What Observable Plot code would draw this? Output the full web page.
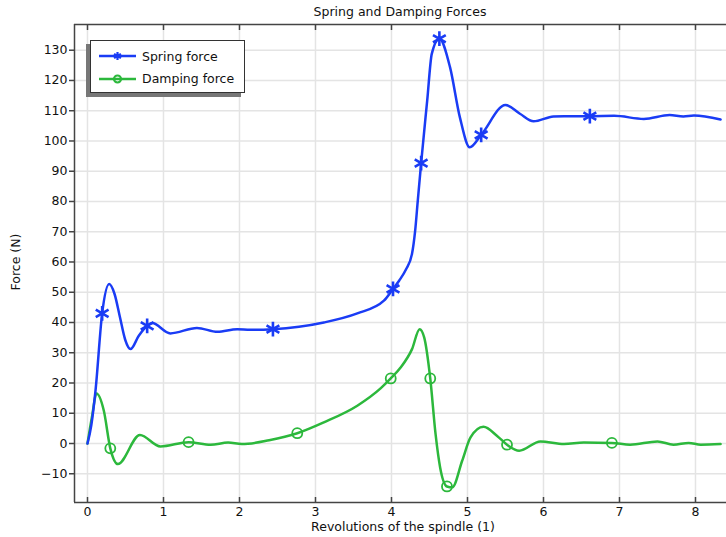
<!DOCTYPE html>
<html><head><meta charset="utf-8">
<script src="https://cdn.jsdelivr.net/npm/d3@7"></script>
<script src="https://cdn.jsdelivr.net/npm/@observablehq/plot@0.6"></script>
<style>
body{margin:0;background:#fff;font-family:"DejaVu Sans",sans-serif;color:#111;}
#wrap{position:relative;width:726px;height:537px;overflow:hidden;}
#title{position:absolute;top:4px;left:74px;width:652px;text-align:center;font-size:12.5px;line-height:15px;}
#xlabel{position:absolute;top:519px;left:74px;width:658px;text-align:center;font-size:12.5px;line-height:15px;}
#ylabel{position:absolute;left:15px;top:262px;transform:translate(-50%,-50%) rotate(-90deg);white-space:nowrap;font-size:12.5px;line-height:15px;}
#legend{position:absolute;left:90px;top:40px;width:153px;height:51px;background:#fff;border:1.5px solid #333;box-shadow:-4px 4px 0 #777;font-size:12.5px;}
.row{position:absolute;left:8px;height:20px;display:flex;align-items:center;}
.row svg{margin-right:6px;}
</style>
</head><body>
<div id="wrap">
  <div id="chart"></div>
  <div id="title">Spring and Damping Forces</div>
  <div id="xlabel">Revolutions of the spindle (1)</div>
  <div id="ylabel">Force (N)</div>
  <div id="legend"></div>
</div>
<script>
const title = "Spring and Damping Forces";
const seriesNames = ["Spring force", "Damping force"];
const xTicks = [0,1,2,3,4,5,6,7,8];
const yTicks = [-10,0,10,20,30,40,50,60,70,80,90,100,110,120,130];
const xDomain = [-0.171, 8.408];
const yDomain = [-19.5, 138.5];

const springX = [0,0.05,0.105,0.193,0.285,0.355,0.425,0.496,0.566,0.675,0.785,0.85,1.09,1.44,1.71,1.97,2.14,2.44,3.11,3.55,3.90,4.02,4.10,4.19,4.27,4.31,4.346,4.39,4.47,4.53,4.63,4.77,4.90,5.03,5.18,5.50,5.69,5.87,6.13,6.27,6.61,6.93,7.32,7.66,7.84,7.98,8.33];
const springY = [0,6,17.4,43,52.7,49.5,42,34.3,31.2,35.6,38.9,39.8,36.4,38.2,36.9,37.8,37.6,37.8,40.0,43.0,47.2,51.1,53.8,57.5,62.7,70,80.3,92.7,113.4,128.8,133.8,124.4,107.8,97.9,102,111.9,109,106.5,108.1,108.2,108.2,108.3,107.3,108.6,108.1,108.4,107.1];
const springMarkX = [0.193,0.785,2.44,4.02,4.39,4.63,5.18,6.61];
const springMarkY = [43,38.9,37.8,51.1,92.7,133.8,102,108.2];

const dampX = [0,0.06,0.118,0.215,0.30,0.40,0.69,0.96,1.33,1.62,1.85,2.03,2.39,2.76,3.11,3.55,3.86,3.99,4.12,4.27,4.37,4.43,4.51,4.58,4.64,4.73,4.80,4.93,5.04,5.21,5.39,5.52,5.68,5.96,6.27,6.53,6.90,7.14,7.50,7.71,7.91,8.07,8.33];
const dampY = [0,9,16.5,10.8,-1.6,-6.8,2.8,-1.0,0.45,-0.4,0.3,-0.2,1.1,3.4,7.0,12.5,18.3,21.5,25.1,31.2,37.8,35.1,21.5,3.1,-7.9,-14.2,-14.5,-5.7,2.0,5.5,2.5,-0.4,-2.4,0.7,-0.2,0.3,0.2,-0.4,0.7,-0.4,0.2,-0.4,-0.2];
const dampMarkX = [0.30,1.33,2.76,3.99,4.51,4.73,5.52,6.90];
const dampMarkY = [-1.6,0.45,3.4,21.5,21.5,-14.2,-0.4,0.2];

const blue = "#1a3cf5";
const green = "#2cb83c";

const spring = springX.map((x,i)=>({x, y: springY[i]}));
const springM = springMarkX.map((x,i)=>({x, y: springMarkY[i]}));
const damp = dampX.map((x,i)=>({x, y: dampY[i]}));
const dampM = dampMarkX.map((x,i)=>({x, y: dampMarkY[i]}));

const W = 726, H = 537, mT = 24, mB = 35, mL = 74, mR = 0;
const innerH = H - mT - mB;
const axisColor = "#444";

const chart = Plot.plot({
  width: W, height: H,
  marginTop: mT, marginBottom: mB, marginLeft: mL, marginRight: mR,
  style: {fontFamily: "DejaVu Sans, sans-serif", fontSize: "12.5px", color: "#111", background: "#fff", overflow: "visible"},
  x: {domain: xDomain, label: null},
  y: {domain: yDomain, label: null},
  marks: [
    Plot.gridX(xTicks, {stroke: "#e4e4e4", strokeOpacity: 1, strokeWidth: 1.5}),
    Plot.gridY(yTicks, {stroke: "#e4e4e4", strokeOpacity: 1, strokeWidth: 1.5}),
    Plot.axisY(yTicks, {tickSize: 5, tickPadding: 2, stroke: axisColor, strokeWidth: 1.5, label: null}),
    Plot.axisX(xTicks, {tickSize: 0, tickPadding: 5, label: null}),
    Plot.tickX(xTicks, {x: d => d, insetTop: innerH - 5, stroke: axisColor, strokeWidth: 1.5}),
    Plot.tickX(xTicks, {x: d => d, insetBottom: innerH - 6, stroke: axisColor, strokeWidth: 1.5}),
    Plot.ruleX([xDomain[0]], {stroke: axisColor, strokeWidth: 1.5}),
    Plot.ruleY([yDomain[0], yDomain[1]], {stroke: axisColor, strokeWidth: 1.5}),
    Plot.line(damp, {x: "x", y: "y", curve: "monotone-x", stroke: green, strokeWidth: 2.5}),
    Plot.line(spring, {x: "x", y: "y", curve: "monotone-x", stroke: blue, strokeWidth: 2.5}),
    Plot.dot(dampM, {x: "x", y: "y", symbol: "circle", r: 5, stroke: green, fill: "none", strokeWidth: 1.8}),
    Plot.dot(springM, {x: "x", y: "y", symbol: "asterisk", r: 7, stroke: blue, strokeWidth: 2.6})
  ]
});
document.getElementById("chart").appendChild(chart);

// legend
const legend = document.getElementById("legend");
const items = [
  {name: seriesNames[0], color: blue, symbol: d3.symbolAsterisk, size: 45, fill: "none"},
  {name: seriesNames[1], color: green, symbol: d3.symbolCircle, size: 38, fill: "none"}
];
items.forEach((it, i) => {
  const row = document.createElement("div");
  row.className = "row";
  row.style.top = (5 + i * 22.5) + "px";
  const s = d3.create("svg").attr("width", 37).attr("height", 20);
  s.append("line").attr("x1", 0).attr("x2", 37).attr("y1", 10).attr("y2", 10)
    .attr("stroke", it.color).attr("stroke-width", 2.5);
  s.append("path").attr("d", d3.symbol(it.symbol, it.size)())
    .attr("transform", "translate(18.5,10)")
    .attr("stroke", it.color).attr("stroke-width", 2.2).attr("fill", it.fill);
  row.appendChild(s.node());
  const t = document.createElement("span");
  t.textContent = it.name;
  row.appendChild(t);
  legend.appendChild(row);
});
</script>
</body></html>
